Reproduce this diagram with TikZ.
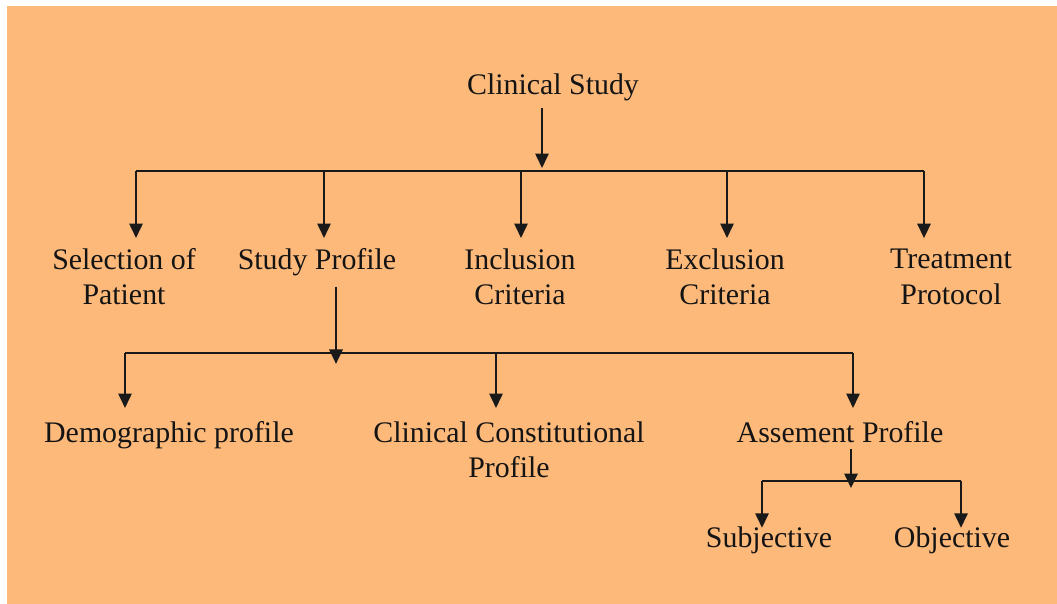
\documentclass[tikz,border=0pt]{standalone}
\usepackage{fontspec}
\setmainfont{Liberation Serif}
\usetikzlibrary{arrows.meta}
\definecolor{bgorange}{RGB}{253,185,122}
\begin{document}
\begin{tikzpicture}[x=0.02cm,y=-0.02cm,
  lbl/.style={inner sep=0pt, align=center, font=\fontsize{17pt}{20.1pt}\selectfont, text=black!92},
  conn/.style={line width=1pt, draw=black!90},
  arr/.style={conn, -{Triangle[width=7.6pt,length=8.2pt]}}]
\useasboundingbox (0,0) rectangle (1057,604);
\fill[bgorange] (7,6) rectangle (1057,604);

% nodes
\node[lbl, anchor=base] (cs) at (553,95) {Clinical Study};
\node[lbl, anchor=north] (sel) at (124,248) {Selection of\\Patient};
\node[lbl, anchor=north] (sp) at (317,248) {Study Profile};
\node[lbl, anchor=north] (inc) at (520,248) {Inclusion\\Criteria};
\node[lbl, anchor=north] (exc) at (725,248) {Exclusion\\Criteria};
\node[lbl, anchor=north] (trt) at (951,249) {Treatment\\Protocol};
\node[lbl, anchor=north] (demo) at (169,421) {Demographic profile};
\node[lbl, anchor=north] (ccp) at (509,421) {Clinical Constitutional\\Profile};
\node[lbl, anchor=north] (ass) at (840,421) {Assement Profile};
\node[lbl, anchor=north] (subj) at (769,526) {Subjective};
\node[lbl, anchor=north] (obj) at (952,526) {Objective};

% level 1 -> 2
\coordinate (b1) at (542,171);
\coordinate (p1) at (136,171);
\coordinate (p2) at (324,171);
\coordinate (p3) at (521,171);
\coordinate (p4) at (727,171);
\coordinate (p5) at (924,171);
\draw[conn] (p1) -- (p5);
\draw[arr, shorten <=3.7pt, shorten >=1.7pt] (cs.south -| b1) -- (b1);
\draw[arr, shorten >=5.7pt] (p1) -- (p1 |- sel.north);
\draw[arr, shorten >=5.7pt] (p2) -- (p2 |- sp.north);
\draw[arr, shorten >=5.7pt] (p3) -- (p3 |- inc.north);
\draw[arr, shorten >=5.7pt] (p4) -- (p4 |- exc.north);
\draw[arr, shorten >=6.2pt] (p5) -- (p5 |- trt.north);

% level 2 -> 3
\coordinate (b2) at (336,353);
\coordinate (q1) at (125,353);
\coordinate (q2) at (496,353);
\coordinate (q3) at (853,353);
\draw[conn] (q1) -- (q3);
\draw[arr, shorten <=6pt, shorten >=-6.2pt] (sp.south -| b2) -- (b2);
\draw[arr, shorten >=7.4pt] (q1) -- (q1 |- demo.north);
\draw[arr, shorten >=7.4pt] (q2) -- (q2 |- ccp.north);
\draw[arr, shorten >=7.4pt] (q3) -- (q3 |- ass.north);

% level 3 -> 4
\coordinate (b3) at (851,481);
\coordinate (r1) at (762,481);
\coordinate (r2) at (961,481);
\draw[conn] (r1) -- (r2);
\draw[arr, shorten <=3.4pt, shorten >=-4pt] (ass.south -| b3) -- (b3);
\draw[arr, shorten >=-1pt] (r1) -- (r1 |- subj.north);
\draw[arr, shorten >=-1pt] (r2) -- (r2 |- obj.north);
\end{tikzpicture}
\end{document}
